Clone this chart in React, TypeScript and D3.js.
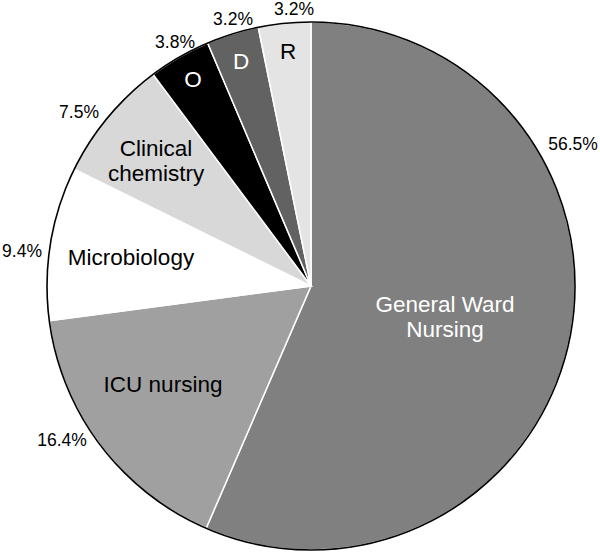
import React, { useRef, useEffect } from 'react';
import { select, pie, arc } from 'd3';

// slices, clockwise from 12 o'clock
const categories = ['General Ward Nursing', 'ICU nursing', 'Microbiology', 'Clinical chemistry', 'O', 'D', 'R'];
const shares = [56.5, 16.4, 9.4, 7.5, 3.8, 3.2, 3.2];
const sliceLines = [['General Ward', 'Nursing'], ['ICU nursing'], ['Microbiology'], ['Clinical', 'chemistry'], ['O'], ['D'], ['R']];
const percentLabels = ['56.5%', '16.4%', '9.4%', '7.5%', '3.8%', '3.2%', '3.2%'];

const fills = ['#808080', '#a0a0a0', '#ffffff', '#d8d8d8', '#000000', '#626262', '#e4e4e4'];
const textFills = ['#ffffff', '#000000', '#000000', '#000000', '#ffffff', '#ffffff', '#000000'];
// label anchors, offset from the pie centre (first-line baseline)
const innerPos = [[134, 26], [-148, 106], [-180, -21], [-155, -130], [-118, -199], [-70, -217], [-23, -227]];
const outerPos = [[262, -136], [-249, 160], [-289, -29], [-232, -168], [-136, -238], [-78, -261], [-17, -271]];

function App() {
	const width = 600;
	const height = 553;
	const cx = 311;
	const cy = 286;
	const radius = 264;
	const svgRef = useRef(null);

	useEffect(() => {
		const svg = select(svgRef.current);
		svg.selectAll('*').remove();
		const g = svg.append('g').attr('transform', `translate(${cx},${cy})`);

		const arcs = pie<number>().sort(null).value((d) => d)(shares);
		const slice = arc<any>().innerRadius(0).outerRadius(radius);

		g.selectAll('.slice')
			.data(arcs)
			.join('path')
			.attr('class', 'slice')
			.attr('d', slice)
			.attr('fill', (d, i) => fills[i])
			.attr('stroke', '#ffffff')
			.attr('stroke-width', 1.5);

		g.append('circle')
			.attr('r', radius)
			.attr('fill', 'none')
			.attr('stroke', '#000000')
			.attr('stroke-width', 1.6);

		const font = '"Liberation Sans", Arial, sans-serif';

		g.selectAll('.inner')
			.data(categories)
			.join('text')
			.attr('class', 'inner')
			.attr('x', (d, i) => innerPos[i][0])
			.attr('y', (d, i) => innerPos[i][1])
			.attr('text-anchor', 'middle')
			.attr('font-family', font)
			.attr('font-size', 22.5)
			.attr('fill', (d, i) => textFills[i])
			.each(function (d, i) {
				const t = select(this);
				sliceLines[i].forEach((line, k) => {
					t.append('tspan')
						.attr('x', innerPos[i][0])
						.attr('dy', k === 0 ? 0 : 25)
						.text(line);
				});
			});

		g.selectAll('.outer')
			.data(percentLabels)
			.join('text')
			.attr('class', 'outer')
			.attr('x', (d, i) => outerPos[i][0])
			.attr('y', (d, i) => outerPos[i][1])
			.attr('text-anchor', 'middle')
			.attr('font-family', font)
			.attr('font-size', 17.5)
			.attr('fill', '#000000')
			.text((d) => d);
	}, []);

	return (
		<svg
			ref={svgRef}
			width={width}
			height={height}
			style={{ position: 'absolute', left: 0, top: 0, background: '#ffffff' }}
		></svg>
	);
}

export default App;
